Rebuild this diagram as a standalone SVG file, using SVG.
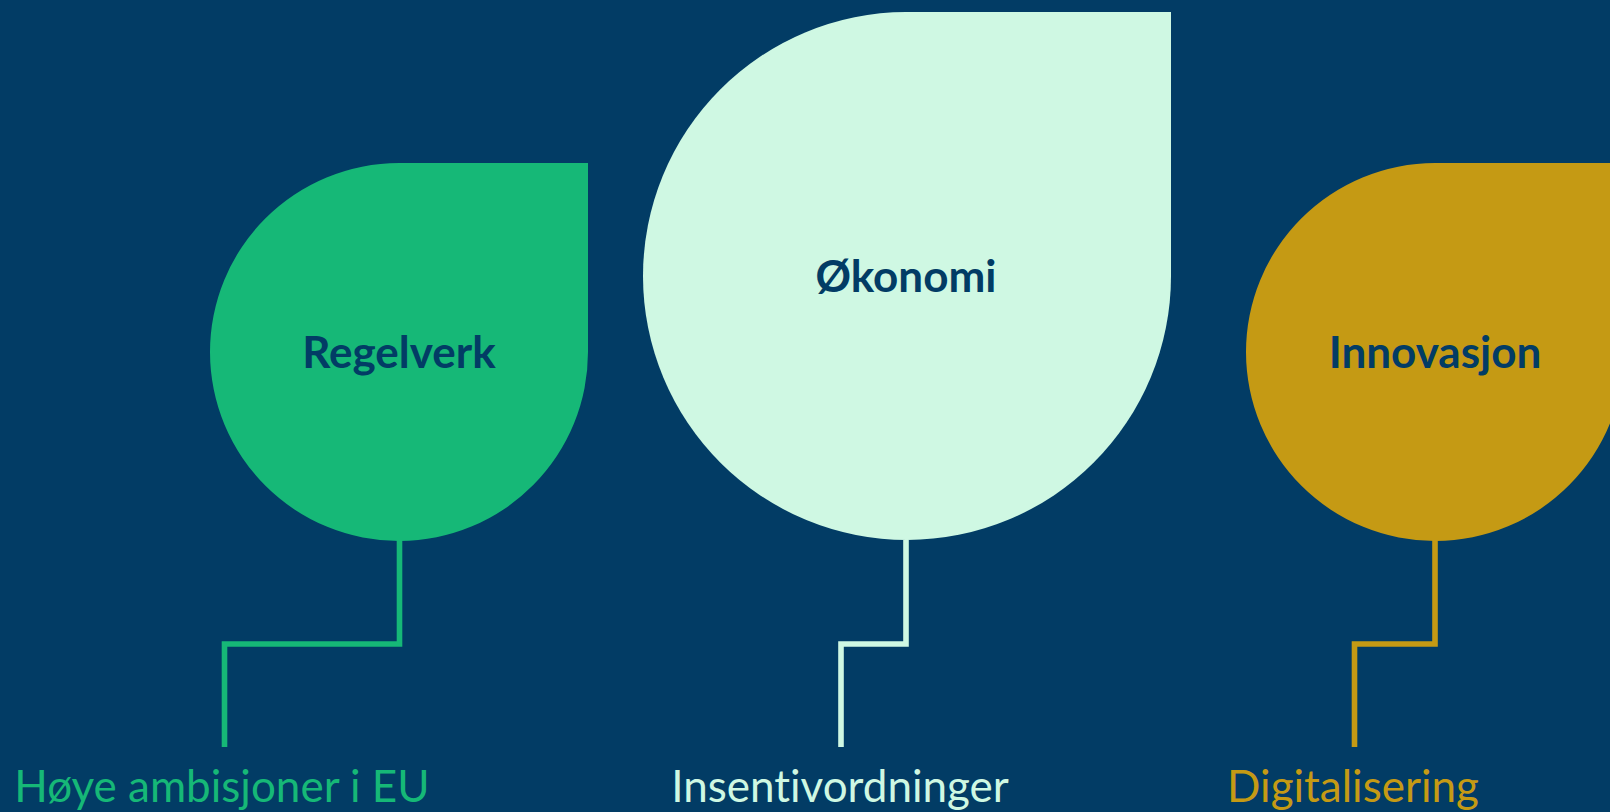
<svg xmlns="http://www.w3.org/2000/svg" width="1610" height="812" viewBox="0 0 1610 812">
<style>
.title{font-family:Lato,"Liberation Sans",sans-serif;font-weight:bold;font-size:44px;fill:#023C65;text-anchor:middle;font-variant-ligatures:none}
.lbl{font-family:Lato,"Liberation Sans",sans-serif;font-size:44px;text-anchor:middle;font-variant-ligatures:none}
.conn{fill:none;stroke-width:5.6;stroke-linejoin:miter;stroke-linecap:butt}
</style>
<rect x="0" y="0" width="1610" height="812" fill="#023C65"/>
<g id="node-regelverk">
<path d="M399 163 H588 V351 A189 189 0 1 1 399 163 Z" fill="#16B877"/>
<text class="title" x="399" y="368">Regelverk</text>
</g>
<g id="node-okonomi">
<path d="M906 12 H1171 V276 A264 264 0 1 1 906 12 Z" fill="#CFF8E3"/>
<text class="title" x="906" y="292">Økonomi</text>
</g>
<g id="node-innovasjon">
<path d="M1435 163 H1624 V351 A189 189 0 1 1 1435 163 Z" fill="#C59A14"/>
<text class="title" x="1435" y="368">Innovasjon</text>
</g>
<g id="connectors">
<path class="conn" d="M399.5 540 V644 H224.5 V747" stroke="#16B877"/>
<path class="conn" d="M906 540 V644 H841 V747" stroke="#CFF8E3"/>
<path class="conn" d="M1435 540 V644 H1354.5 V747" stroke="#C59A14"/>
</g>
<g id="labels">
<text class="lbl" x="222" y="802" fill="#16B877">Høye ambisjoner i EU</text>
<text class="lbl" x="840" y="802" fill="#CFF8E3">Insentivordninger</text>
<text class="lbl" x="1353" y="802" fill="#C59A14">Digitalisering</text>
</g>
</svg>
